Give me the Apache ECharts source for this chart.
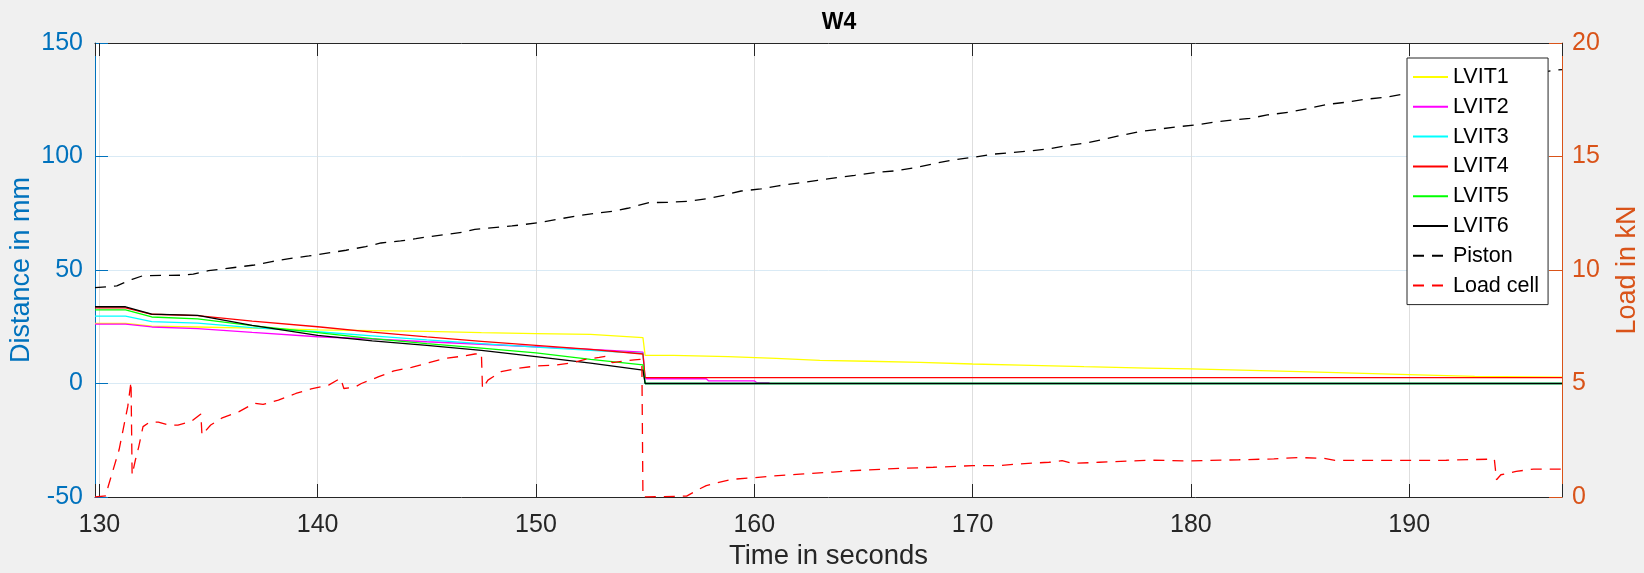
<!DOCTYPE html>
<html><head><meta charset="utf-8">
<script src="https://cdn.jsdelivr.net/npm/echarts@6/dist/echarts.min.js"></script>
<style>html,body{margin:0;padding:0;background:#f0f0f0;}#c{width:1644px;height:573px;}</style>
</head><body><div id="c"></div>
<script>
// ---- data (time in s, distance in mm, load in kN) ----
const lvitT = [129.8, 131.2, 132.4, 134.5, 137.0, 140.0, 142.5, 145.0, 147.5, 150.0, 152.5, 154.9];
const lvit1Pre = [26.5, 26.5, 25.3, 24.9, 24.4, 23.6, 23.3, 23.0, 22.4, 22.0, 21.6, 20.2];
const lvit1PostT = [155.0, 156.3, 158.8, 161.0, 163.0, 165.2, 167.6, 170.0, 172.2, 175.1, 178.0, 180.0, 185.0, 190.0, 193.0, 197.0];
const lvit1PostV = [12.4, 12.4, 11.8, 11.1, 10.2, 9.8, 9.3, 8.6, 8.1, 7.4, 6.8, 6.4, 5.2, 3.9, 3.1, 2.8];
const lvit2Pre = [26.2, 26.2, 24.9, 24.2, 22.5, 20.6, 19.6, 18.4, 17.3, 16.2, 15.0, 13.8];
const lvit2PostT = [155.0, 157.8, 157.9, 160.0, 160.1, 160.7];
const lvit2PostV = [2.1, 2.1, 1.2, 1.2, 0.4, 0.4];
const lvit3Pre = [29.7, 29.7, 27.3, 26.6, 24.6, 22.8, 21.0, 19.2, 17.6, 16.0, 14.6, 13.3];
const lvit4Pre = [33.3, 33.3, 30.5, 29.9, 27.5, 25.0, 22.6, 20.5, 18.6, 16.8, 15.0, 13.0];
const lvit5Pre = [32.4, 32.4, 29.3, 28.5, 25.5, 22.4, 19.8, 17.6, 15.6, 13.5, 10.6, 8.2];
const lvit6Pre = [33.8, 33.8, 30.6, 30.0, 25.6, 21.2, 18.8, 16.8, 14.6, 11.8, 9.0, 5.9];
const flatT = [155.0, 197.0];
const lvit3Post = [0, 0];
const lvit4Post = [2.6, 2.6];
const lvit5Post = [0, 0];
const lvit6Post = [0, 0];

const pistonT = [129.8, 130.8, 131.5, 132.0, 133.8, 134.3, 135.0, 136.1, 137.1, 137.9, 138.7, 139.6, 140.5, 141.3, 142.2, 142.9, 143.8, 144.5, 145.1, 145.9, 146.6, 147.2, 148.9, 150.1, 150.9, 151.8, 152.7, 153.6, 154.2, 155.2, 156.0, 157.0, 157.8, 158.6, 159.4, 160.3, 161.1, 162.0, 162.9, 163.8, 164.6, 165.6, 166.5, 167.4, 168.2, 169.1, 170.0, 170.9, 171.8, 172.6, 173.5, 174.4, 175.3, 176.0, 176.9, 177.6, 178.5, 179.3, 180.2, 181.0, 181.9, 182.7, 183.5, 184.5, 185.4, 186.3, 187.1, 188.0, 188.9, 189.7, 191.5, 193.5, 195.5, 196.5, 197.0];
const pistonV = [42.2, 43.0, 45.9, 47.5, 47.7, 48.2, 49.7, 51.0, 52.2, 53.7, 55.0, 56.2, 57.5, 58.7, 60.3, 61.9, 62.8, 63.8, 64.7, 65.7, 66.6, 67.9, 69.4, 70.8, 72.2, 73.7, 75.0, 76.0, 77.2, 79.7, 79.8, 80.3, 81.4, 82.9, 84.8, 85.7, 87.1, 88.3, 89.5, 90.7, 91.7, 93.0, 93.7, 95.1, 96.8, 98.5, 99.6, 101.0, 101.7, 102.4, 103.4, 104.9, 106.1, 107.6, 109.5, 110.9, 112.0, 113.0, 113.9, 115.0, 116.1, 116.8, 118.3, 119.5, 121.2, 123.0, 123.9, 125.2, 126.1, 127.4, 130.0, 133.0, 136.0, 137.8, 138.3];

const loadT = [129.8, 130.3, 130.4, 130.9, 131.3, 131.45, 131.5, 131.65, 131.8, 132.0, 132.3, 132.7, 133.2, 133.6, 134.2, 134.65, 134.7, 135.1, 135.6, 136.4, 137.1, 137.5, 138.2, 139.0, 139.7, 140.5, 141.05, 141.2, 141.7, 142.0, 142.8, 143.5, 144.3, 145.1, 145.8, 146.6, 147.2, 147.5, 147.55, 147.8, 148.4, 149.2, 150.0, 150.9, 151.6, 152.3, 152.9, 153.2, 153.5, 154.0, 154.5, 154.85, 154.9, 156.9, 157.4, 157.8, 158.3, 159.0, 160.0, 160.9, 162.1, 163.6, 165.1, 166.7, 168.2, 170.0, 171.2, 172.0, 173.5, 174.1, 174.6, 175.8, 178.2, 180.0, 182.2, 183.8, 184.9, 186.1, 186.6, 190.0, 191.7, 193.9, 194.0, 194.2, 194.9, 195.7, 197.0];
const loadV = [0.0, 0.05, 0.45, 2.07, 3.98, 5.08, 0.97, 1.63, 2.2, 3.1, 3.3, 3.3, 3.17, 3.17, 3.32, 3.66, 2.73, 3.17, 3.47, 3.76, 4.13, 4.08, 4.27, 4.56, 4.76, 4.93, 5.23, 4.78, 4.84, 5.0, 5.3, 5.56, 5.71, 5.92, 6.1, 6.2, 6.3, 6.33, 4.78, 5.15, 5.52, 5.67, 5.77, 5.81, 5.9, 6.07, 6.15, 6.2, 5.92, 5.98, 6.04, 6.07, 0.0, 0.04, 0.31, 0.5, 0.63, 0.78, 0.85, 0.93, 1.01, 1.1, 1.19, 1.26, 1.31, 1.38, 1.38, 1.45, 1.53, 1.6, 1.48, 1.53, 1.62, 1.59, 1.64, 1.68, 1.74, 1.70, 1.61, 1.61, 1.62, 1.67, 0.76, 0.98, 1.13, 1.23, 1.23];

const seriesNames = ['LVIT1', 'LVIT2', 'LVIT3', 'LVIT4', 'LVIT5', 'LVIT6', 'Piston', 'Load cell'];
const seriesColors = ['#ffff00', '#ff00ff', '#00ffff', '#ff0000', '#00ff00', '#000000', '#000000', '#ff0000'];
const leftTicks = [-50, 0, 50, 100, 150];
const rightTicks = [0, 5, 10, 15, 20];

// ---- helpers ----
function pairs(t, v) { return t.map((x, i) => [x, v[i]]); }
function join(t1, v1, t2, v2) { return pairs(t1, v1).concat(pairs(t2, v2)); }

const FONT = '"Liberation Sans", Arial, Helvetica, sans-serif';
const AX = '#262626', BLUE = '#0072BD', ORANGE = '#D95319';
const XMIN = 129.8, XMAX = 197.0;

const dataList = [
  join(lvitT, lvit1Pre, lvit1PostT, lvit1PostV),
  join(lvitT, lvit2Pre, lvit2PostT, lvit2PostV),
  join(lvitT, lvit3Pre, flatT, lvit3Post),
  join(lvitT, lvit4Pre, flatT, lvit4Post),
  join(lvitT, lvit5Pre, flatT, lvit5Post),
  join(lvitT, lvit6Pre, flatT, lvit6Post),
  pairs(pistonT, pistonV),
  pairs(loadT, loadV)
];

const series = dataList.map((d, i) => ({
  name: seriesNames[i],
  type: 'line',
  data: d,
  yAxisIndex: i === 7 ? 1 : 0,
  xAxisIndex: 0,
  symbol: 'none',
  showSymbol: false,
  smooth: false,
  clip: true,
  lineStyle: { color: seriesColors[i], width: 1.3, type: i >= 6 ? [11, 8] : 'solid' },
  itemStyle: { color: seriesColors[i] },
  emphasis: { disabled: true }
}));

const xLabelFmt = v => (Math.abs(v - Math.round(v / 10) * 10) < 1e-6 ? String(Math.round(v)) : '');

const chart = echarts.init(document.getElementById('c'), null, { renderer: 'canvas' });
chart.setOption({
  backgroundColor: '#f0f0f0',
  animation: false,
  textStyle: { fontFamily: FONT },
  title: {
    text: 'W4', left: 834, top: 6, textAlign: 'center',
    textStyle: { fontFamily: FONT, fontSize: 23, fontWeight: 'bold', color: '#000' }
  },
  grid: {
    left: 95, right: 82, top: 43, bottom: 76, containLabel: false, outerBoundsMode: 'none',
    show: true, backgroundColor: '#ffffff', borderWidth: 0
  },
  legend: {
    data: seriesNames,
    orient: 'vertical', left: 1407, top: 58,
    padding: [8, 9, 8, 5],
    itemWidth: 35, itemHeight: 14, itemGap: 7.8,
    backgroundColor: '#ffffff', borderColor: AX, borderWidth: 1, borderRadius: 0,
    selectedMode: false,
    itemStyle: { opacity: 0 },
    textStyle: { fontFamily: FONT, fontSize: 21.5, color: '#000', padding: [0, 0, 0, 0] }
  },
  xAxis: [{
    type: 'value', position: 'bottom', min: XMIN, max: XMAX, splitNumber: 7,
    name: 'Time in seconds', nameLocation: 'middle', nameGap: 45, nameMoveOverlap: false,
    nameTextStyle: { fontFamily: FONT, fontSize: 27.5, color: AX },
    axisLine: { show: true, onZero: false, lineStyle: { color: AX, width: 1 } },
    axisTick: { show: true, inside: true, length: 13, lineStyle: { color: AX } },
    axisLabel: { formatter: xLabelFmt, margin: 16, fontFamily: FONT, fontSize: 25, color: AX },
    splitLine: { show: true, lineStyle: { color: '#dedede', width: 1 } }
  }, {
    type: 'value', position: 'top', min: XMIN, max: XMAX, splitNumber: 7,
    axisLine: { show: true, onZero: false, lineStyle: { color: AX, width: 1 } },
    axisTick: { show: true, inside: true, length: 13, lineStyle: { color: AX } },
    axisLabel: { show: false },
    splitLine: { show: false }
  }],
  yAxis: [{
    type: 'value', position: 'left', min: leftTicks[0], max: leftTicks[leftTicks.length - 1], interval: 50,
    name: 'Distance in mm', nameLocation: 'middle', nameGap: 60, nameRotate: 90, nameMoveOverlap: false,
    nameTextStyle: { fontFamily: FONT, fontSize: 27, color: BLUE },
    axisLine: { show: true, onZero: false, lineStyle: { color: BLUE, width: 1 } },
    axisTick: { show: true, inside: true, length: 13, lineStyle: { color: BLUE } },
    axisLabel: { margin: 12, fontFamily: FONT, fontSize: 25, color: BLUE },
    splitLine: { show: true, lineStyle: { color: '#d9eaf5', width: 1 } }
  }, {
    type: 'value', position: 'right', min: rightTicks[0], max: rightTicks[rightTicks.length - 1], interval: 5,
    name: 'Load in kN', nameLocation: 'middle', nameGap: 52, nameRotate: 90, nameMoveOverlap: false,
    nameTextStyle: { fontFamily: FONT, fontSize: 27, color: ORANGE },
    axisLine: { show: true, onZero: false, lineStyle: { color: ORANGE, width: 1 } },
    axisTick: { show: true, inside: true, length: 13, lineStyle: { color: ORANGE } },
    axisLabel: { margin: 10, fontFamily: FONT, fontSize: 25, color: ORANGE },
    splitLine: { show: false }
  }],
  series: series
});
</script>
</body></html>
